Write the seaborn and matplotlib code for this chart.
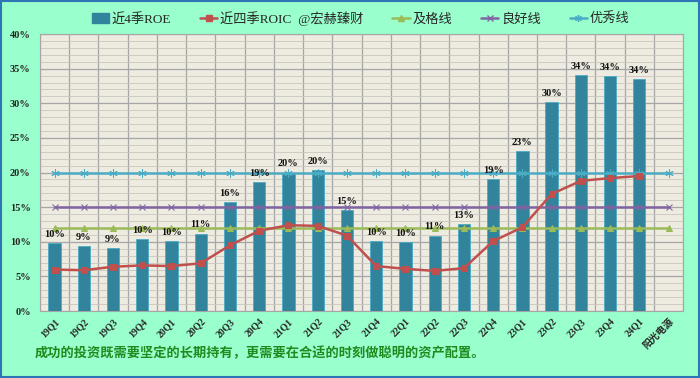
import matplotlib as mpl
import matplotlib.pyplot as plt
import matplotlib.patches as mpatches
from matplotlib.lines import Line2D
from matplotlib.ticker import MultipleLocator, PercentFormatter
import numpy as np
import pandas as pd
import seaborn as sns

# data
quarters = ['19Q1', '19Q2', '19Q3', '19Q4', '20Q1', '20Q2', '20Q3', '20Q4',
            '21Q1', '21Q2', '21Q3', '21Q4', '22Q1', '22Q2', '22Q3', '22Q4',
            '23Q1', '23Q2', '23Q3', '23Q4', '24Q1', '阳光电源']
roe = [9.8, 9.4, 9.1, 10.4, 10.1, 11.2, 15.7, 18.6, 20.0, 20.3, 14.6,
       10.1, 10.0, 10.9, 12.6, 19.1, 23.1, 30.2, 34.1, 33.9, 33.5, np.nan]
roic = [6.0, 5.9, 6.4, 6.6, 6.5, 6.9, 9.5, 11.6, 12.4, 12.3, 10.9,
        6.5, 6.1, 5.8, 6.2, 10.1, 12.1, 16.9, 18.8, 19.2, 19.5, np.nan]
pass_line = [12] * len(quarters)
good_line = [15] * len(quarters)
great_line = [20] * len(quarters)

footer = '成功的投资既需要坚定的长期持有，更需要在合适的时刻做聪明的资产配置。'

df = pd.DataFrame({'quarter': quarters, 'roe': roe, 'roic': roic,
                   'pass': pass_line, 'good': good_line, 'great': great_line})
df['pos'] = np.arange(len(df))

#_______________________________________________________________
sns.set_style('white')
serif_cjk = ['Liberation Serif', 'Noto Sans CJK SC', 'DejaVu Sans']
plt.rcParams['font.family'] = serif_cjk

bg = '#99FFCC'
bar_c = '#31849B'
red = '#C0504D'
green = '#9BBB59'
purple = '#8064A2'
blue = '#4BACC6'

fig = plt.figure(figsize=(7, 3.78), dpi=100, facecolor=bg)
ax = fig.add_axes([0.057, 0.177, 0.919, 0.733])
ax.set_facecolor('#EEEBE0')

sns.barplot(data=df, x='pos', y='roe', color=bar_c, width=0.42, ax=ax,
            edgecolor='#4BACC6', linewidth=0.6, saturation=1, zorder=3)

sns.lineplot(data=df, x='pos', y='great', color=blue, marker=(6, 2, 0), markersize=6,
             markeredgecolor=blue, linewidth=1.8, ax=ax, zorder=4)
sns.lineplot(data=df, x='pos', y='good', color=purple, marker='x', markersize=5,
             markeredgecolor=purple, linewidth=1.8, ax=ax, zorder=4)
sns.lineplot(data=df, x='pos', y='pass', color=green, marker='^', markersize=5,
             markeredgecolor=green, linewidth=1.8, ax=ax, zorder=4)
sns.lineplot(data=df, x='pos', y='roic', color=red, marker='s', markersize=5,
             markeredgecolor=red, linewidth=1.8, ax=ax, zorder=5)

# value labels above bars
for i, v in enumerate(roe):
    if not np.isnan(v):
        ax.text(i, v + 0.6, f'{v:.0f}%', ha='center', va='bottom', fontsize=7.5,
                fontweight='bold', color='#111111', zorder=6)

ax.set_xlim(-0.5, len(quarters) - 0.5)
ax.set_ylim(0, 40)
ax.yaxis.set_major_locator(MultipleLocator(5))
ax.yaxis.set_minor_locator(MultipleLocator(1))
ax.yaxis.set_major_formatter(PercentFormatter(decimals=0))
ax.set_xticks(np.arange(len(quarters)))
ax.set_xticklabels(quarters, rotation=45, fontsize=7, fontweight='bold',
                   family=serif_cjk)
ax.set_xticks(np.arange(len(quarters) + 1) - 0.5, minor=True)
ax.tick_params(axis='x', which='major', length=0, pad=4)
ax.tick_params(axis='x', which='minor', length=4, color='#999999')
ax.tick_params(axis='y', which='major', labelsize=7.5, length=3, color='#999999')
ax.tick_params(axis='y', which='minor', length=0)
for lab in ax.get_yticklabels():
    lab.set_fontweight('bold')
for lab in ax.get_xticklabels():
    lab.set_ha('right')
    lab.set_rotation_mode('anchor')

ax.grid(axis='y', which='minor', color='#C8C6BE', linewidth=0.6, zorder=0)
ax.grid(axis='y', which='major', color='#A6A6A6', linewidth=0.9, zorder=0)
ax.grid(axis='x', which='minor', color='#A6A6A6', linewidth=0.9, zorder=0)
ax.set_axisbelow(True)
ax.set_xlabel('')
ax.set_ylabel('')
for s in ax.spines.values():
    s.set_color('#A6A6A6')
    s.set_linewidth(0.8)

handles = [
    mpatches.Patch(color=bar_c),
    Line2D([], [], color=red, marker='s', markersize=4, linewidth=1.8),
    Line2D([], [], color=green, marker='^', markersize=4, linewidth=1.8),
    Line2D([], [], color=purple, marker='x', markersize=4, linewidth=1.8),
    Line2D([], [], color=blue, marker=(6, 2, 0), markersize=5, linewidth=1.8),
]
labels = ['近4季ROE', '近四季ROIC  @宏赫臻财', '及格线', '良好线', '优秀线']
fig.legend(handles, labels, loc='center', bbox_to_anchor=(0.515, 0.952), ncol=5,
           frameon=False, handlelength=1.3, handletextpad=0.2,
           columnspacing=2.2, prop={'family': serif_cjk, 'size': 9.5})

fig.text(0.05, 0.055, footer, fontsize=9.5, color='#1E8B1E', fontweight='bold',
         family=['Noto Sans CJK SC', 'DejaVu Sans'])

# thin blue frame round the figure
fig.patches.append(mpatches.Rectangle((0.002, 0.003), 0.996, 0.994, transform=fig.transFigure,
                                      fill=False, edgecolor='#2E75B6', linewidth=1.5))

fig.savefig('out.png', dpi=100, facecolor=bg)
